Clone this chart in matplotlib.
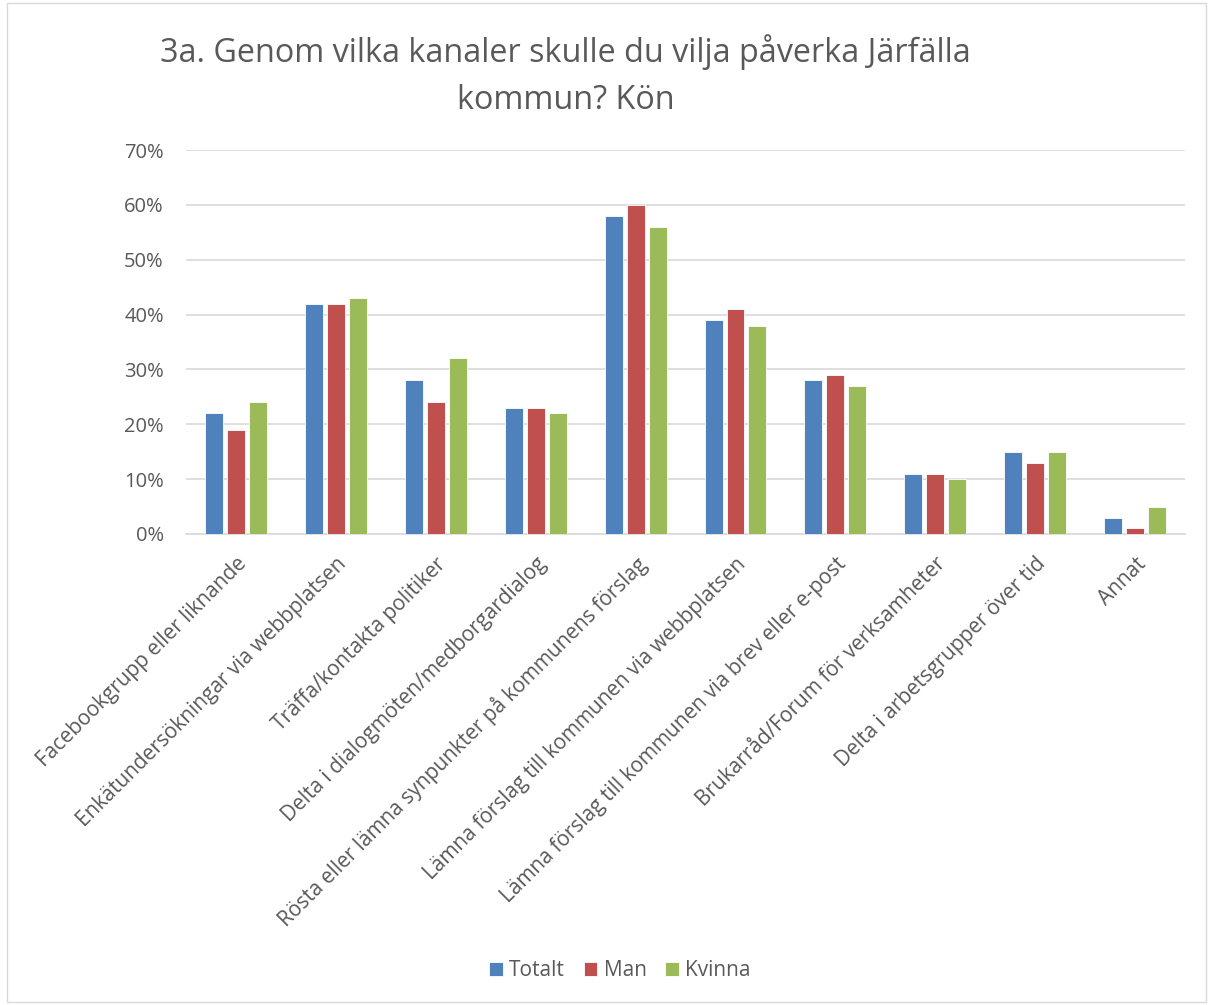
import matplotlib.pyplot as plt
import numpy as np

# Data
kategorier = ["Facebookgrupp eller liknande",
              "Enkätundersökningar via webbplatsen",
              "Träffa/kontakta politiker",
              "Delta i dialogmöten/medborgardialog",
              "Rösta eller lämna synpunkter på kommunens förslag",
              "Lämna förslag till kommunen via webbplatsen",
              "Lämna förslag till kommunen via brev eller e-post",
              "Brukarråd/Forum för verksamheter",
              "Delta i arbetsgrupper över tid",
              "Annat"]
totalt = [22, 42, 28, 23, 58, 39, 28, 11, 15, 3]
man = [19, 42, 24, 23, 60, 41, 29, 11, 13, 1]
kvinna = [24, 43, 32, 22, 56, 38, 27, 10, 15, 5]
serier = ["Totalt", "Man", "Kvinna"]
farger = ["#4F81BD", "#C0504D", "#9BBB59"]

plt.rcParams['font.family'] = ['Open Sans', 'DejaVu Sans']
grey = "#595959"

fig = plt.figure(figsize=(12.11, 10.05), dpi=100)
ax = fig.add_axes([0.1536, 0.4687, 0.825, 0.382])

x = np.arange(len(kategorier))
for i, (vals, namn) in enumerate(zip([totalt, man, kvinna], serier)):
    ax.bar(x + (i - 1) * 0.22, np.array(vals) / 100, width=0.18,
           color=farger[i], label=namn, edgecolor="white", linewidth=0.6,
           zorder=3)

ax.set_xlim(-0.5, len(kategorier) - 0.5)
ax.set_ylim(0, 0.7)
ax.set_yticks(np.arange(0, 0.71, 0.1))
ax.set_yticklabels([f"{int(round(v * 100))}%" for v in np.arange(0, 0.71, 0.1)],
                   fontsize=14.5, color=grey)
ax.set_xticks(x)
ax.set_xticklabels(kategorier, rotation=45, ha="right", rotation_mode="anchor",
                   fontsize=15, color=grey)
ax.tick_params(axis="y", length=0, pad=16)
ax.tick_params(axis="x", length=0, pad=14)
ax.grid(axis="y", color="#D9D9D9", linewidth=1.2, zorder=0)
for s in ["top", "right", "left"]:
    ax.spines[s].set_visible(False)
ax.spines["bottom"].set_color("#D9D9D9")
ax.spines["bottom"].set_linewidth(1.2)

fig.text(0.467, 0.966, "3a. Genom vilka kanaler skulle du vilja påverka Järfälla\nkommun? Kön",
         ha="center", va="top", fontsize=23.3, color=grey, linespacing=1.55)

fig.legend(loc="center", bbox_to_anchor=(0.512, 0.034), ncol=3, frameon=False,
           fontsize=15, handlelength=0.65, handleheight=0.65, columnspacing=0.9,
           handletextpad=0.3, labelcolor=grey)

fig.patches.append(plt.Rectangle((0.006, 0.003), 0.99, 0.994, transform=fig.transFigure,
                                 fill=False, edgecolor="#D9D9D9", linewidth=1))

fig.savefig("out.png", dpi=100)
